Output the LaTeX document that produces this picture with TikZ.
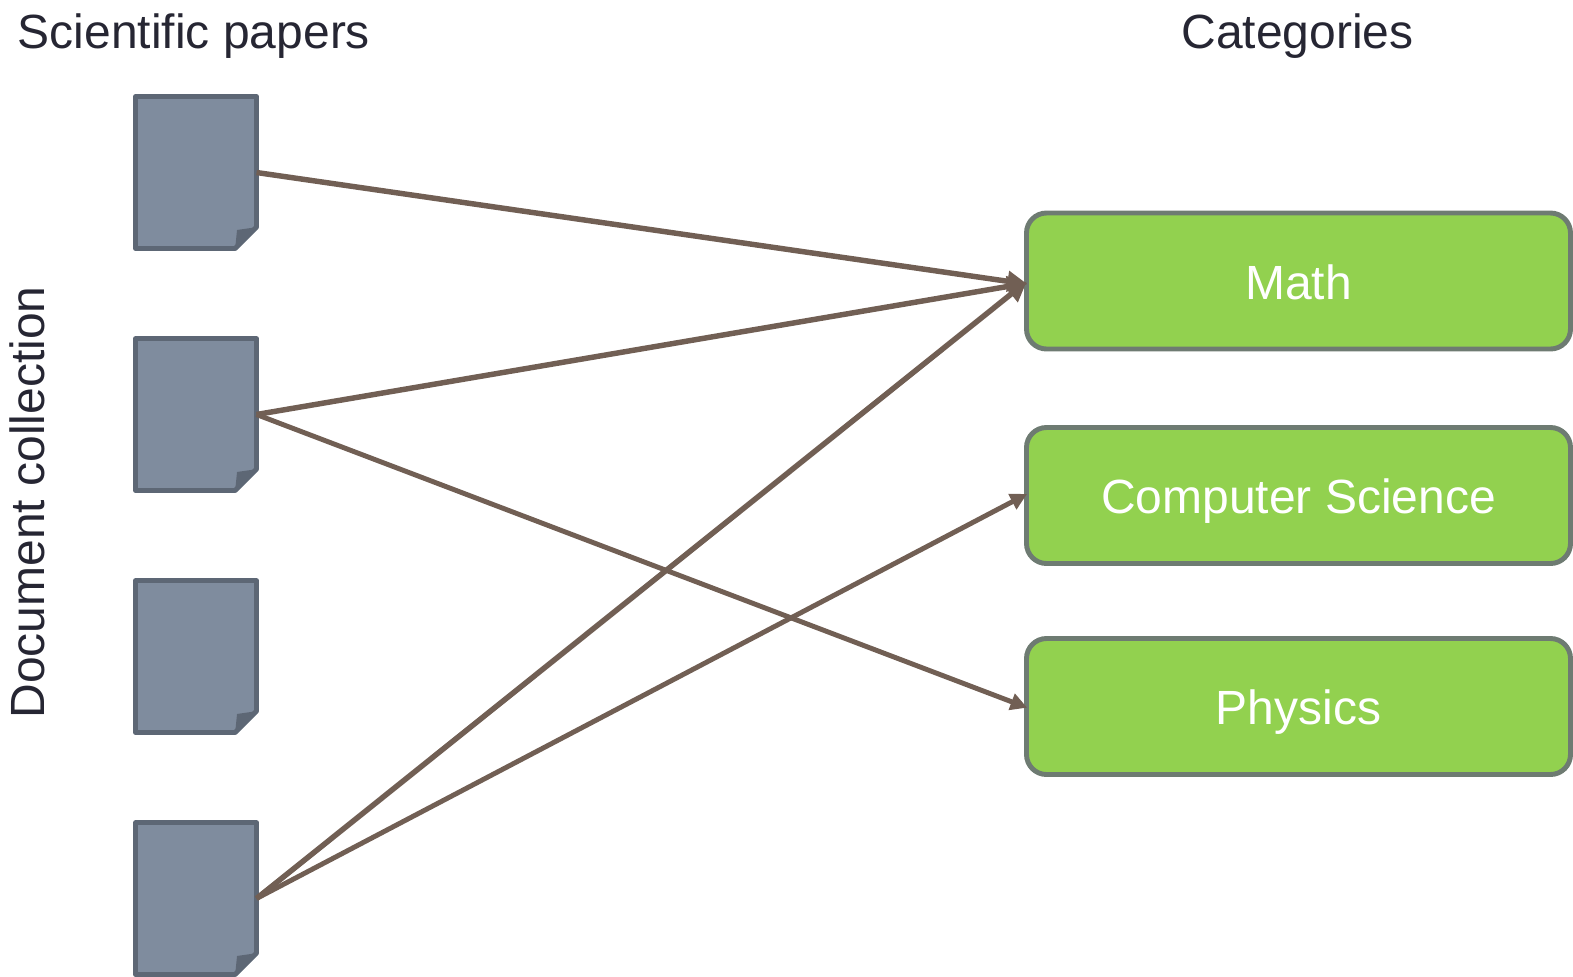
\documentclass[tikz,border=0pt]{standalone}
\usepackage{fontspec}
\setmainfont{Liberation Sans}
\usetikzlibrary{arrows.meta}
\definecolor{docfill}{HTML}{7F8C9E}
\definecolor{docline}{HTML}{5D6775}
\definecolor{catfill}{HTML}{92D14F}
\definecolor{catline}{HTML}{6E7B72}
\definecolor{linkcol}{HTML}{715F54}
\definecolor{inkcol}{HTML}{262633}
\tikzset{
  x=0.75pt,y=-0.75pt,
  docbox/.style={minimum width=90.75pt,minimum height=114pt,inner sep=0pt,outer sep=0pt},
  docshape/.style={draw=docline,fill=docfill,line width=3.7pt,line join=round},
  cat/.style={draw=catline,fill=catfill,line width=3.7pt,rounded corners=15pt,minimum width=408pt,minimum height=102pt,inner sep=0pt,outer sep=1.8pt,text=white,text height=27.4pt,text depth=0pt,font=\fontsize{36}{36}\selectfont},
  title/.style={text=inkcol,font=\fontsize{36}{36}\selectfont,inner sep=0pt},
  link/.style={draw=linkcol,line width=4.1pt,-{Triangle[length=15pt,width=15pt]},shorten >=-2.5pt},
  linkthin/.style={link,line width=3.7pt,-{Triangle[length=12.5pt,width=12.5pt]}}
}
\begin{document}
\begin{tikzpicture}
\useasboundingbox (0,0) rectangle (1573,976);
\node[title] (t1) at (194,36) {Scientific papers};
\node[title] (t2) at (1297.5,36) {Categories};
\node[title,rotate=90] (t3) at (27.5,502.5) {Document collection};
\foreach \n/\y in {d1/172.5,d2/414.5,d3/656.5,d4/898.5}{
  \node[docbox] (\n) at (196,\y) {};
  \draw[docshape] (\n.north west) -- (\n.north east) -- ([yshift=16pt]\n.south east) -- ([xshift=-16pt]\n.south east) -- (\n.south west) -- cycle;
  \fill[docline] ([xshift=-16pt]\n.south east) -- ([xshift=-14.6pt,yshift=13.9pt]\n.south east) -- ([yshift=16pt]\n.south east) -- cycle;
}
\node[cat] (math) at (1298.5,281) {Math};
\node[cat] (cs) at (1298.5,495.5) {Computer Science};
\node[cat] (phys) at (1298.5,706.5) {Physics};
\draw[link] (d1.east) -- ([yshift=-2pt]math.west);
\draw[link] (d2.east) -- ([yshift=-2pt]math.west);
\draw[link] (d4.east) -- ([yshift=-2pt]math.west);
\draw[linkthin] (d2.east) -- (phys.west);
\draw[linkthin] (d4.east) -- (cs.west);
\end{tikzpicture}
\end{document}
